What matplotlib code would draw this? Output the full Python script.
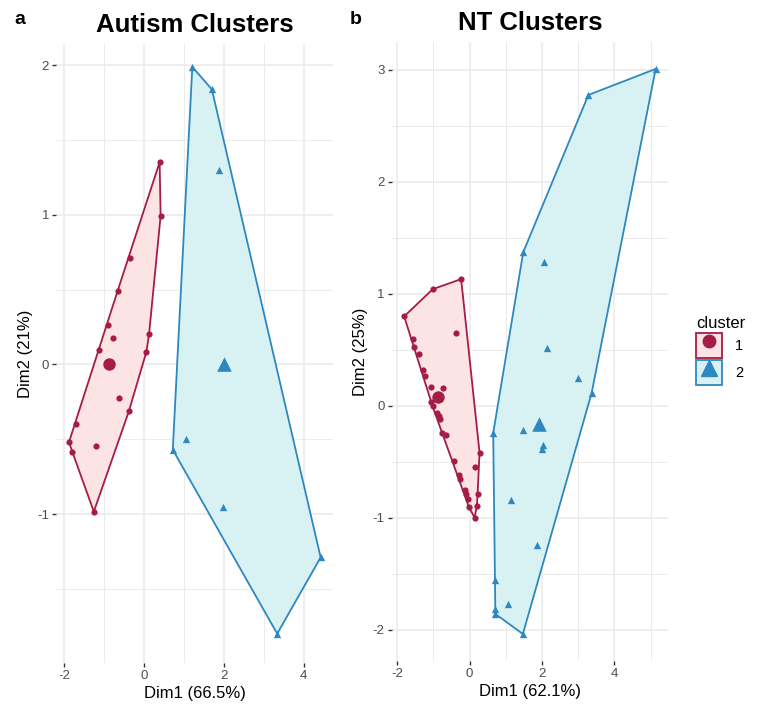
import numpy as np
import matplotlib
matplotlib.use("Agg")
import matplotlib.pyplot as plt
from matplotlib.patches import Patch
from matplotlib.lines import Line2D
from matplotlib.legend_handler import HandlerTuple

plt.rcParams["font.family"] = ["Liberation Sans", "DejaVu Sans"]
plt.rcParams["axes.unicode_minus"] = False

# ---- data (PCA coordinates) ----
aut_c1_x = [0.39, 0.415, -0.357, -0.664, -0.896, -0.78, 0.124, -1.12, 0.058,
            -0.64, -0.382, -1.718, -1.884, -1.80, -1.195, -1.261]
aut_c1_y = [1.353, 0.995, 0.711, 0.492, 0.262, 0.177, 0.201, 0.096, 0.085,
            -0.221, -0.313, -0.396, -0.519, -0.584, -0.544, -0.984]
aut_c1_center = (-0.87, 0.0)
aut_c2_x = [1.21, 1.70, 1.875, 1.04, 0.72, 1.975, 4.43, 3.34]
aut_c2_y = [1.99, 1.84, 1.30, -0.50, -0.57, -0.95, -1.29, -1.80]
aut_c2_center = (2.0, 0.0)

nt_c1_x = [-1.81, -1.02, -0.236, -0.364, -1.573, -1.545, -1.41, -1.29, -1.245,
           -1.082, -0.727, -1.064, -1.027, -0.891, -0.855, -0.818, -0.764,
           -0.655, 0.273, -0.445, 0.155, -0.30, -0.264, -0.136, -0.109,
           -0.045, 0.218, -0.018, 0.20, 0.136]
nt_c1_y = [0.80, 1.043, 1.133, 0.656, 0.599, 0.531, 0.465, 0.322, 0.268,
           0.173, 0.158, 0.039, 0.0, -0.06, -0.089, -0.119, -0.238, -0.256,
           -0.417, -0.492, -0.542, -0.614, -0.656, -0.751, -0.787, -0.829,
           -0.79, -0.906, -0.894, -0.996]
nt_c1_center = (-0.873, 0.08)
nt_c2_x = [1.48, 2.06, 2.15, 3.0, 3.37, 0.65, 1.47, 2.03, 1.99, 1.13, 1.85,
           0.70, 1.07, 0.71, 0.71, 1.47, 3.28, 5.14]
nt_c2_y = [1.373, 1.287, 0.522, 0.248, 0.116, -0.242, -0.212, -0.349, -0.388,
           -0.842, -1.245, -1.558, -1.767, -1.812, -1.857, -2.036, 2.777, 3.01]
nt_c2_center = (1.91, -0.161)

RED, BLUE = "#A51C48", "#2E88C0"
PINK, CYAN = "#FDE4E4", "#D8F1F3"
GRID = "#EBEBEB"


def hull(x, y):
    pts = sorted(set(zip(x, y)))
    cross = lambda o, a, b: (a[0]-o[0])*(b[1]-o[1]) - (a[1]-o[1])*(b[0]-o[0])
    lo, up = [], []
    for p in pts:
        while len(lo) >= 2 and cross(lo[-2], lo[-1], p) <= 0:
            lo.pop()
        lo.append(p)
    for p in reversed(pts):
        while len(up) >= 2 and cross(up[-2], up[-1], p) <= 0:
            up.pop()
        up.append(p)
    return np.array(lo[:-1] + up[:-1])


W, H = 760, 708
fig = plt.figure(figsize=(W/100, H/100), dpi=100)


def px_axes(x0, y0, x1, y1):
    return fig.add_axes([x0/W, 1 - y1/H, (x1 - x0)/W, (y1 - y0)/H])


def panel(ax, c1x, c1y, c1c, c2x, c2y, c2c, title, xlab, ylab):
    for xs, ys, cen, lc, fc, mk, s, sc in [
            (c1x, c1y, c1c, RED, PINK, "o", 20, 80),
            (c2x, c2y, c2c, BLUE, CYAN, "^", 28, 110)]:
        h = hull(xs, ys)
        ax.fill(h[:, 0], h[:, 1], facecolor=fc, edgecolor=lc, lw=1.3, zorder=2)
        ax.scatter(xs, ys, s=s, marker=mk, color=lc, lw=0, zorder=3)
        ax.scatter([cen[0]], [cen[1]], s=sc, marker=mk, color=lc, lw=0, zorder=3)
    for sp in ax.spines.values():
        sp.set_visible(False)
    ax.grid(True, which="major", color=GRID, lw=1.2, zorder=0)
    ax.grid(True, which="minor", color=GRID, lw=0.7, zorder=0)
    ax.set_axisbelow(True)
    ax.tick_params(which="major", length=3, width=1.0, color="#333333",
                   labelcolor="#4D4D4D", labelsize=9.5, pad=2)
    ax.tick_params(which="minor", length=0)
    ax.set_title(title, fontsize=18.5, fontweight="bold", pad=9)
    ax.set_xlabel(xlab, fontsize=12, labelpad=3)
    ax.set_ylabel(ylab, fontsize=12, labelpad=3)


axA = px_axes(56, 44, 333, 663)
panel(axA, aut_c1_x, aut_c1_y, aut_c1_center, aut_c2_x, aut_c2_y, aut_c2_center,
      "Autism Clusters", "Dim1 (66.5%)", "Dim2 (21%)")
axA.set_xlim(-2.21, 4.74)
axA.set_ylim(-1.996, 2.143)
axA.set_xticks([-2, 0, 2, 4])
axA.set_xticks([-1, 1, 3], minor=True)
axA.set_yticks([-1, 0, 1, 2])
axA.set_yticks([-1.5, -0.5, 0.5, 1.5], minor=True)

axB = px_axes(391.5, 42, 668, 661)
panel(axB, nt_c1_x, nt_c1_y, nt_c1_center, nt_c2_x, nt_c2_y, nt_c2_center,
      "NT Clusters", "Dim1 (62.1%)", "Dim2 (25%)")
axB.set_xlim(-2.16, 5.48)
axB.set_ylim(-2.277, 3.25)
axB.set_xticks([-2, 0, 2, 4])
axB.set_xticks([-1, 1, 3, 5], minor=True)
axB.set_yticks([-2, -1, 0, 1, 2, 3])
axB.set_yticks([-1.5, -0.5, 0.5, 1.5, 2.5], minor=True)

fig.text(14/W, 1 - 20/H, "a", fontsize=14, fontweight="bold", va="center")
fig.text(350/W, 1 - 20/H, "b", fontsize=14, fontweight="bold", va="center")

handles = [(Patch(facecolor=PINK, edgecolor=RED, lw=1.3),
            Line2D([], [], marker="o", ls="", color=RED, markersize=9)),
           (Patch(facecolor=CYAN, edgecolor=BLUE, lw=1.3),
            Line2D([], [], marker="^", ls="", color=BLUE, markersize=11))]
fig.legend(handles, ["1", "2"], title="cluster", loc="upper left",
           bbox_to_anchor=(686/W, 1 - 306/H), frameon=False, fontsize=10.5,
           title_fontsize=12, handler_map={tuple: HandlerTuple(ndivide=1, pad=0)},
           handlelength=1.75, handleheight=2.3, labelspacing=0.1,
           handletextpad=0.9, borderpad=0.2, alignment="left")

fig.savefig("out.png", dpi=100)
